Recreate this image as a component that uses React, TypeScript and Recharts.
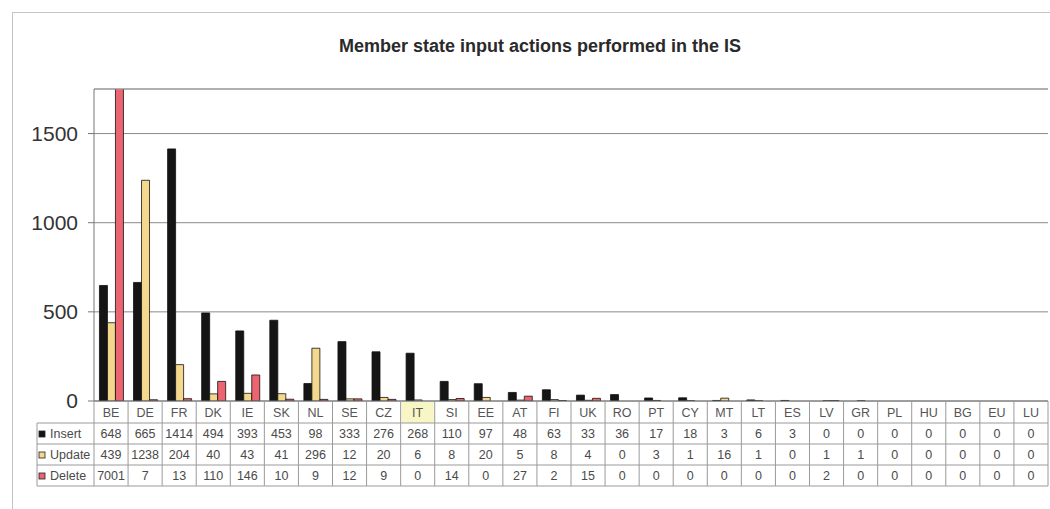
import React from 'react';
import { BarChart, Bar, XAxis, YAxis, CartesianGrid, ReferenceLine } from 'recharts';

const categories = ['BE', 'DE', 'FR', 'DK', 'IE', 'SK', 'NL', 'SE', 'CZ', 'IT', 'SI', 'EE', 'AT', 'FI', 'UK', 'RO', 'PT', 'CY', 'MT', 'LT', 'ES', 'LV', 'GR', 'PL', 'HU', 'BG', 'EU', 'LU'];
const insertValues = [648, 665, 1414, 494, 393, 453, 98, 333, 276, 268, 110, 97, 48, 63, 33, 36, 17, 18, 3, 6, 3, 0, 0, 0, 0, 0, 0, 0];
const updateValues = [439, 1238, 204, 40, 43, 41, 296, 12, 20, 6, 8, 20, 5, 8, 4, 0, 3, 1, 16, 1, 0, 1, 1, 0, 0, 0, 0, 0];
const deleteValues = [7001, 7, 13, 110, 146, 10, 9, 12, 9, 0, 14, 0, 27, 2, 15, 0, 0, 0, 0, 0, 0, 2, 0, 0, 0, 0, 0, 0];
const yTicks = [0, 500, 1000, 1500];

const series = [
  { key: 'insert', label: 'Insert', color: '#151515', values: insertValues },
  { key: 'update', label: 'Update', color: '#f4d88e', values: updateValues },
  { key: 'delete', label: 'Delete', color: '#ec6470', values: deleteValues },
];

const data = categories.map((name, i) => ({
  name,
  insert: insertValues[i],
  update: updateValues[i],
  delete: deleteValues[i],
}));

// layout
const W = 1050;
const H = 509;
const PLOT_LEFT = 94;
const PLOT_RIGHT = 1048;
const PLOT_TOP = 89;
const PLOT_BOTTOM = 401;
const CELL_W = (PLOT_RIGHT - PLOT_LEFT) / categories.length;
const ROWS = [401, 423, 444, 465, 486];
const HEAD_LEFT = 37;
const FONT = '"Liberation Sans", Arial, sans-serif';
const LINE = '#9a9a9a';

const TableTick = (props: any) => {
  const { x, payload, index } = props;
  const left = x - CELL_W / 2;
  const right = x + CELL_W / 2;
  return (
    <g fontFamily={FONT} fontSize={12.5}>
      {payload.value === 'IT' && (
        <rect x={left + 1} y={ROWS[0] + 1} width={CELL_W - 2} height={ROWS[1] - ROWS[0] - 1} fill="#f8f6c4" />
      )}
      <line x1={left} x2={left} y1={ROWS[0]} y2={ROWS[4]} stroke={LINE} />
      {index === categories.length - 1 && (
        <line x1={right} x2={right} y1={ROWS[0]} y2={ROWS[4]} stroke={LINE} />
      )}
      {ROWS.slice(1).map((ry) => (
        <line key={ry} x1={left} x2={right} y1={ry} y2={ry} stroke={LINE} />
      ))}
      <text x={x} y={ROWS[0] + 16} textAnchor="middle" fill="#555">{payload.value}</text>
      {series.map((s, r) => (
        <text key={s.key} x={x} y={ROWS[r + 1] + 15} textAnchor="middle" fill="#4a4a4a">
          {s.values[index]}
        </text>
      ))}
      {index === 0 && (
        <g>
          <line x1={HEAD_LEFT} x2={HEAD_LEFT} y1={ROWS[1]} y2={ROWS[4]} stroke={LINE} />
          {ROWS.slice(1).map((ry) => (
            <line key={ry} x1={HEAD_LEFT} x2={left} y1={ry} y2={ry} stroke={LINE} />
          ))}
          {series.map((s, r) => (
            <g key={s.key}>
              <rect x={HEAD_LEFT + 2} y={ROWS[r + 1] + 8} width={6} height={6} fill={s.color} stroke="#222" strokeWidth={0.8} />
              <text x={HEAD_LEFT + 13} y={ROWS[r + 1] + 15} fill="#4a4a4a">{s.label}</text>
            </g>
          ))}
        </g>
      )}
    </g>
  );
};

export default function App() {
  return (
    <div style={{ position: 'absolute', left: 0, top: 0, width: W, height: H, background: '#fff', overflow: 'hidden' }}>
      <div style={{ position: 'absolute', left: 12, top: 12, width: W, height: H, borderTop: '1px solid #c4c4c4', borderLeft: '1px solid #c4c4c4' }} />
      <div style={{ position: 'absolute', left: 0, top: 36, width: 1080, textAlign: 'center', fontFamily: FONT, fontWeight: 'bold', fontSize: 18, color: '#2a2a2a' }}>
        Member state input actions performed in the IS
      </div>
      <div style={{ position: 'absolute', left: 0, top: 0 }}>
        <BarChart
          width={W}
          height={H}
          data={data}
          margin={{ top: PLOT_TOP, right: W - PLOT_RIGHT, left: PLOT_LEFT - 60, bottom: H - PLOT_BOTTOM - 100 }}
          barCategoryGap="16%"
          barGap={0}
        >
          <CartesianGrid vertical={false} stroke="#8a8a8a" />
          <XAxis
            dataKey="name"
            height={100}
            interval={0}
            tickLine={false}
            axisLine={{ stroke: '#777' }}
            tick={<TableTick />}
          />
          <YAxis
            width={60}
            domain={[0, 1750]}
            allowDataOverflow
            ticks={yTicks}
            tickSize={6}
            tickMargin={10}
            axisLine={{ stroke: '#777' }}
            tickLine={{ stroke: '#777' }}
            tick={{ fill: '#333', fontSize: 21, fontFamily: FONT }}
          />
          <YAxis
            yAxisId="frame"
            orientation="right"
            width={0}
            domain={[0, 1750]}
            tick={false}
            tickLine={false}
            axisLine={{ stroke: LINE }}
          />
          <ReferenceLine y={1750} stroke={LINE} />
          {series.map((s) => (
            <Bar
              key={s.key}
              dataKey={s.key}
              fill={s.color}
              stroke="#111"
              strokeWidth={0.8}
              isAnimationActive={false}
            />
          ))}
        </BarChart>
      </div>
    </div>
  );
}
